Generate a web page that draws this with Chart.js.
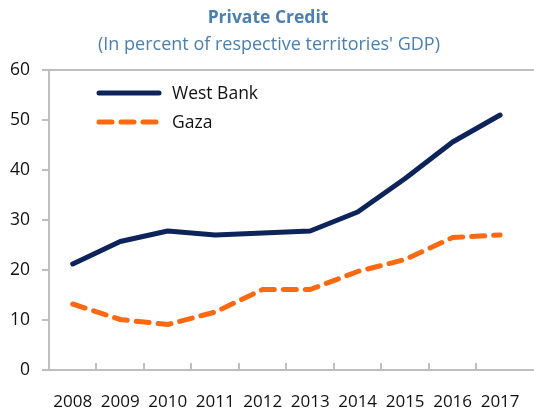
<!DOCTYPE html>
<html>
<head>
<meta charset="utf-8">
<script src="https://cdn.jsdelivr.net/npm/chart.js@4"></script>
<style>
  html, body { margin: 0; padding: 0; background: #fff; }
  #wrap { width: 534px; height: 414px; }
</style>
</head>
<body>
<div id="wrap"><canvas id="chart" width="534" height="414"></canvas></div>
<script>
const years = ['2008', '2009', '2010', '2011', '2012', '2013', '2014', '2015', '2016', '2017'];
const westBank = [21.2, 25.7, 27.8, 27.0, 27.4, 27.8, 31.6, 38.3, 45.6, 51.0];
const gaza = [13.2, 10.1, 9.1, 11.6, 16.1, 16.1, 19.7, 22.1, 26.5, 27.0];
const yTicks = [0, 10, 20, 30, 40, 50, 60];

const FONT = '"Open Sans", "Noto Sans", sans-serif';
const AXIS = '#bfbfbf';

// titles, legend, top frame line and inward x ticks
const decor = {
    id: 'decor',
    afterDraw(c) {
        const ctx = c.ctx;
        const area = c.chartArea;
        const x = c.scales.x;
        ctx.save();

        ctx.textAlign = 'center';
        ctx.textBaseline = 'middle';
        ctx.fillStyle = '#4a7fb0';
        ctx.font = 'bold 17.5px ' + FONT;
        ctx.fillText('Private Credit', 268, 18);
        ctx.font = '18px ' + FONT;
        ctx.fillText("(In percent of respective territories' GDP)", 269, 45);

        ctx.strokeStyle = AXIS;
        ctx.lineWidth = 2;
        ctx.beginPath();
        ctx.moveTo(area.left, area.top);
        ctx.lineTo(c.width, area.top);
        ctx.moveTo(area.right, area.bottom);
        ctx.lineTo(c.width, area.bottom);
        for (let i = 1; i < years.length; i++) {
            const px = Math.round((x.getPixelForValue(i - 1) + x.getPixelForValue(i)) / 2);
            ctx.moveTo(px, area.bottom);
            ctx.lineTo(px, area.bottom - 7);
        }
        ctx.stroke();

        // legend
        c.data.datasets.forEach((ds, i) => {
            const y = 93 + i * 29;
            ctx.strokeStyle = ds.borderColor;
            ctx.lineWidth = 5;
            ctx.lineCap = 'round';
            ctx.setLineDash(ds.borderDash || []);
            ctx.beginPath();
            ctx.moveTo(99, y);
            ctx.lineTo(159, y);
            ctx.stroke();
            ctx.setLineDash([]);
            ctx.fillStyle = '#111';
            ctx.font = '17.5px ' + FONT;
            ctx.textAlign = 'left';
            ctx.fillText(ds.label, 172, y + 1);
        });
        ctx.restore();
    }
};

new Chart(document.getElementById('chart'), {
    type: 'line',
    data: {
        labels: years,
        datasets: [{
            label: 'West Bank',
            data: westBank,
            borderColor: '#0c2459',
            borderWidth: 5,
            borderCapStyle: 'round',
            borderJoinStyle: 'round',
            pointRadius: 0,
            tension: 0
        }, {
            label: 'Gaza',
            data: gaza,
            borderColor: '#fb6a10',
            borderWidth: 5,
            borderDash: [13, 9],
            borderCapStyle: 'round',
            borderJoinStyle: 'round',
            pointRadius: 0,
            tension: 0
        }]
    },
    options: {
        responsive: false,
        animation: false,
        layout: { padding: { top: 70, right: 9, left: 0, bottom: 0 } },
        plugins: {
            legend: { display: false },
            title: { display: false },
            tooltip: { enabled: false }
        },
        scales: {
            x: {
                offset: true,
                grid: { display: false },
                border: { color: AXIS, width: 2 },
                ticks: { color: '#111', font: { family: FONT, size: 17 }, padding: 14, maxRotation: 0, autoSkip: false },
                afterFit(s) { s.height = 44; }
            },
            y: {
                min: 0,
                max: 60,
                afterBuildTicks(s) { s.ticks = yTicks.map(v => ({ value: v })); },
                grid: { drawOnChartArea: false, tickLength: 7, color: AXIS, lineWidth: 2 },
                border: { color: AXIS, width: 2 },
                ticks: { color: '#111', font: { family: FONT, size: 17.5 }, padding: 12 },
                afterFit(s) { s.width = 49; }
            }
        }
    },
    plugins: [decor]
});
</script>
</body>
</html>
